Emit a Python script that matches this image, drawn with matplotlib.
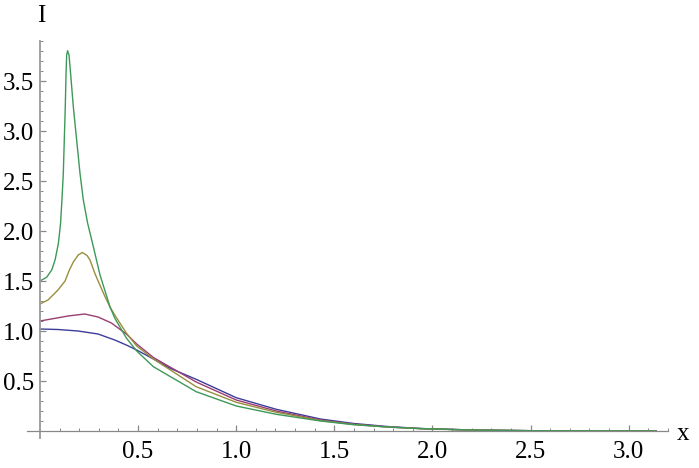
import matplotlib.pyplot as plt
from matplotlib.ticker import FixedLocator

# values
x_blue = [0, 0.092, 0.194, 0.296, 0.381, 0.44, 0.493, 0.578, 0.663, 0.796, 1.0, 1.204,
          1.429, 1.599, 1.77, 1.94, 2.2, 2.5, 2.8, 3.14]
i_blue = [1.02, 1.015, 1.00, 0.97, 0.91, 0.86, 0.81, 0.72, 0.627, 0.517, 0.333, 0.217,
          0.12, 0.075, 0.045, 0.025, 0.01, 0.003, 0.001, 0.0]

x_magenta = [0, 0.058, 0.143, 0.228, 0.296, 0.364, 0.44, 0.493, 0.578, 0.796, 1.0, 1.204,
             1.429, 1.599, 1.77, 1.94, 2.2, 2.5, 2.8, 3.14]
i_magenta = [1.10, 1.12, 1.15, 1.17, 1.14, 1.08, 0.97, 0.87, 0.735, 0.49, 0.31, 0.20,
             0.11, 0.068, 0.04, 0.024, 0.01, 0.003, 0.001, 0.0]

x_gold = [0, 0.041, 0.092, 0.128, 0.150, 0.170, 0.195, 0.216, 0.240, 0.255, 0.281, 0.303,
          0.330, 0.357, 0.381, 0.44, 0.493, 0.578, 0.796, 1.0, 1.204, 1.429, 1.599, 1.77,
          1.94, 2.2, 2.5, 2.8, 3.14]
i_gold = [1.27, 1.31, 1.41, 1.50, 1.61, 1.69, 1.76, 1.785, 1.755, 1.71, 1.57, 1.47,
          1.35, 1.24, 1.16, 0.98, 0.85, 0.72, 0.443, 0.287, 0.187, 0.105, 0.065, 0.04,
          0.023, 0.009, 0.003, 0.001, 0.0]

x_green = [0, 0.034, 0.060, 0.077, 0.094, 0.105, 0.112, 0.119, 0.124, 0.129, 0.133, 0.136,
           0.141, 0.148, 0.156, 0.170, 0.187, 0.204, 0.221, 0.243, 0.272, 0.306, 0.330,
           0.357, 0.381, 0.44, 0.493, 0.578, 0.796, 1.0, 1.204, 1.429, 1.599, 1.77, 1.94,
           2.2, 2.5, 2.8, 3.14]
i_green = [1.50, 1.537, 1.61, 1.71, 1.877, 2.077, 2.31, 2.577, 2.91, 3.243, 3.577, 3.76,
           3.803, 3.76, 3.577, 3.243, 2.91, 2.577, 2.31, 2.077, 1.843, 1.56, 1.41,
           1.24, 1.13, 0.93, 0.80, 0.643, 0.393, 0.25, 0.167, 0.10, 0.063, 0.04, 0.024,
           0.01, 0.003, 0.001, 0.0]

x_ticks = [0.5, 1.0, 1.5, 2.0, 2.5, 3.0]
y_ticks = [0.5, 1.0, 1.5, 2.0, 2.5, 3.0, 3.5]

plt.rcParams['font.family'] = ['Liberation Serif', 'DejaVu Serif']

fig = plt.figure(figsize=(6.99, 4.68), dpi=100)
ax = fig.add_axes([27 / 699, 1 - 438 / 468, 641 / 699, 397 / 468])

lw = 1.0
ax.plot(x_blue, i_blue, color='#3d3d99', lw=lw)
ax.plot(x_magenta, i_magenta, color='#993d72', lw=lw)
ax.plot(x_gold, i_gold, color='#998e3d', lw=lw)
ax.plot(x_green, i_green, color='#3d9958', lw=lw)

ax.set_xlim(-0.066, 3.2)
ax.set_ylim(-0.07, 3.9)

for s in ['top', 'right']:
    ax.spines[s].set_visible(False)
ax.spines['left'].set_position(('data', 0))
ax.spines['bottom'].set_position(('data', 0))
ax.spines['left'].set_color('#999999')
ax.spines['bottom'].set_color('#888888')
ax.spines['left'].set_linewidth(1.3)
ax.spines['bottom'].set_linewidth(0.9)

ax.xaxis.set_major_locator(FixedLocator(x_ticks))
ax.yaxis.set_major_locator(FixedLocator(y_ticks))
ax.xaxis.set_minor_locator(FixedLocator([k / 10 for k in range(1, 33)]))
ax.yaxis.set_minor_locator(FixedLocator([k / 10 for k in range(1, 40)]))
ax.set_xticklabels(['%.1f' % v for v in x_ticks])
ax.set_yticklabels(['%.1f' % v for v in y_ticks])

ax.tick_params(which='both', direction='in', color='#888888', labelsize=18)
ax.tick_params(which='major', length=4, width=0.9)
ax.tick_params(which='minor', length=2.2, width=0.7)
ax.tick_params(axis='x', pad=7)
ax.tick_params(axis='y', pad=4)

fig.text(41 / 699, 1 - 16 / 468, 'I', fontsize=18, ha='center', va='center')
fig.text(683 / 699, 1 - 434 / 468, 'x', fontsize=18, ha='center', va='center')

fig.savefig('out.png', dpi=100)
